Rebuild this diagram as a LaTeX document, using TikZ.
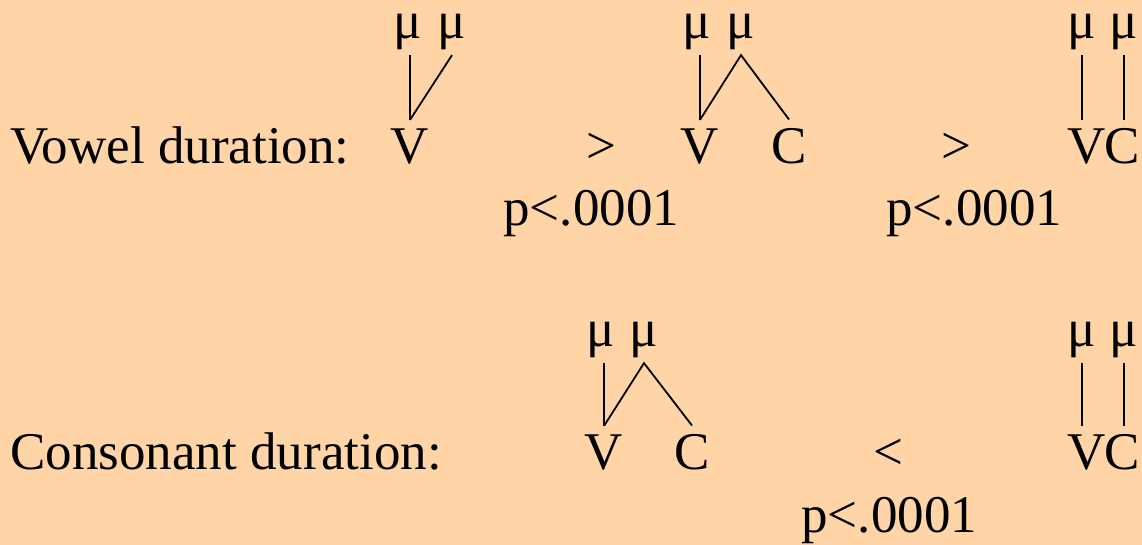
\documentclass[tikz,border=0pt]{standalone}
\usepackage{fontspec}
\setmainfont{Liberation Serif}
\definecolor{peach}{RGB}{255,213,168}

\begin{document}
\begin{tikzpicture}[x=0.5pt, y=-0.5pt,
    font=\fontsize{26.5}{32}\selectfont,
    txt/.style={inner sep=0pt, anchor=base west},
    mora/.style={inner xsep=0pt, inner ysep=2.2pt, anchor=base},
    seg/.style={inner xsep=0pt, inner ysep=4.5pt, anchor=base},
    rel/.style={inner sep=0pt, anchor=base},
    assoc/.style={line width=0.9pt}]
    \fill[peach] (0,0) rectangle (1142,545);
    \useasboundingbox (0,0) rectangle (1142,545);
    % vowel row
    \node[txt] (vowel) at (10,164) {Vowel duration:};
    \node[mora] (ma) at (408,39) {μ};
    \node[mora] (mb) at (452,39) {μ};
    \node[seg] (va) at (410,164) {V};
    \draw[assoc] (va.north |- ma.south) -- (va.north);
    \draw[assoc] (mb.south) -- (va.north);
    \node[rel] (gta) at (601,164) {>};
    \node[txt] (pa) at (503,226) {p<.0001};
    \node[mora] (mc) at (697,39) {μ};
    \node[mora] (md) at (741,39) {μ};
    \node[seg] (vb) at (700,164) {V};
    \node[seg] (cb) at (789,164) {C};
    \draw[assoc] (vb.north |- mc.south) -- (vb.north);
    \draw[assoc] (vb.north) -- (md.south) -- (cb.north);
    \node[rel] (gtb) at (956,164) {>};
    \node[txt] (pb) at (886,226) {p<.0001};
    \node[mora] (me) at (1082,39) {μ};
    \node[mora] (mf) at (1124,39) {μ};
    \node[seg] (vc) at (1087,164) {V};
    \node[seg] (cc) at (1122,164) {C};
    \draw[assoc] (me.south) -- (me.south |- vc.north);
    \draw[assoc] (mf.south) -- (mf.south |- cc.north);
    % consonant row
    \node[txt] (cons) at (10,470) {Consonant duration:};
    \node[mora] (mg) at (601,347) {μ};
    \node[mora] (mh) at (644,347) {μ};
    \node[seg] (vd) at (604,470) {V};
    \node[seg] (cd) at (692,470) {C};
    \draw[assoc] (vd.north |- mg.south) -- (vd.north);
    \draw[assoc] (vd.north) -- (mh.south) -- (cd.north);
    \node[rel] (lt) at (888,470) {<};
    \node[txt] (pc) at (801,532) {p<.0001};
    \node[mora] (mi) at (1082,347) {μ};
    \node[mora] (mj) at (1124,347) {μ};
    \node[seg] (ve) at (1087,470) {V};
    \node[seg] (ce) at (1122,470) {C};
    \draw[assoc] (mi.south) -- (mi.south |- ve.north);
    \draw[assoc] (mj.south) -- (mj.south |- ce.north);
\end{tikzpicture}
\end{document}
